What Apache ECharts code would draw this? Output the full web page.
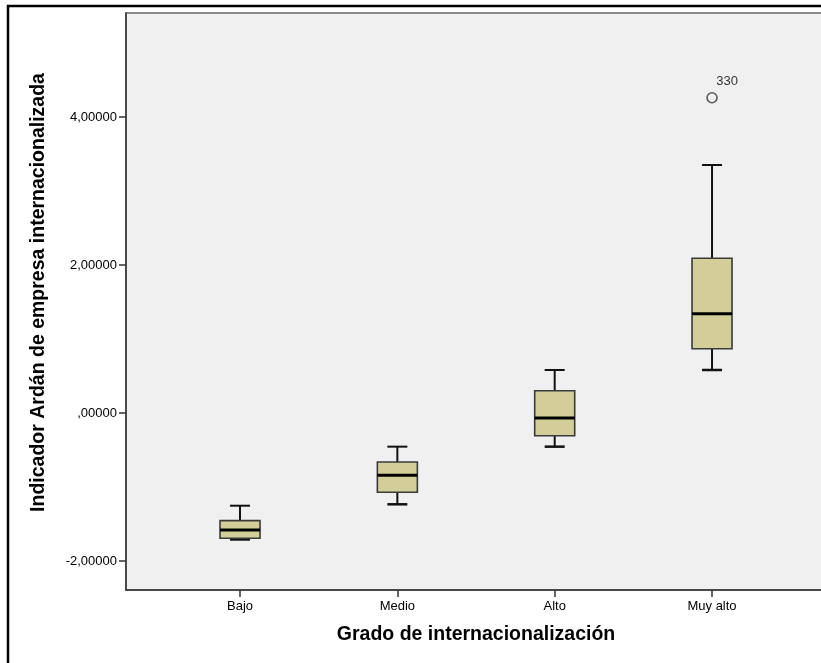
<!DOCTYPE html>
<html>
<head>
<meta charset="utf-8">
<script src="https://cdn.jsdelivr.net/npm/echarts@6/dist/echarts.min.js"></script>
<style>
html,body{margin:0;padding:0;background:#fff;}
#chart{width:821px;height:663px;}
</style>
</head>
<body>
<div id="chart"></div>
<script>
// ---- data ----
const categories = ['Bajo', 'Medio', 'Alto', 'Muy alto'];
const lowerWhisker = [-1.709, -1.234, -0.455, 0.581];
const q1Values = [-1.693, -1.072, -0.307, 0.869];
const medianValues = [-1.581, -0.842, -0.068, 1.342];
const q3Values = [-1.455, -0.662, 0.301, 2.091];
const upperWhisker = [-1.253, -0.455, 0.581, 3.351];
const outlierCategory = [3];
const outlierValues = [4.26];
const outlierLabels = ['330'];
const yTickValues = [-2, 0, 2, 4];
const yTitle = 'Indicador Ardán de empresa internacionalizada';
const xTitle = 'Grado de internacionalización';

// ---- build ----
const boxData = categories.map((c, i) => [i, lowerWhisker[i], q1Values[i], medianValues[i], q3Values[i], upperWhisker[i]]);
const outlierData = outlierCategory.map((c, i) => ({ value: [c, outlierValues[i]], name: outlierLabels[i] }));

function fmt(v) {
  let s = Math.abs(v).toFixed(5).replace('.', ',');
  if (s.startsWith('0,')) s = s.slice(1);
  return (v < 0 ? '-' : '') + s;
}

const FONT = '"Liberation Sans", Arial, sans-serif';
const plotLeft = 126, plotTop = 13, plotBottom = 590;

const chart = echarts.init(document.getElementById('chart'), null, { renderer: 'canvas' });
chart.setOption({
  backgroundColor: '#ffffff',
  animation: false,
  grid: { left: 161.35, right: 30.3, top: plotTop, bottom: 663 - plotBottom, show: false },
  graphic: [
    { type: 'rect', z: -10, shape: { x: 8, y: 6, width: 840, height: 700 },
      style: { fill: '#ffffff', stroke: '#000000', lineWidth: 2.5 } },
    { type: 'rect', z: -9, shape: { x: plotLeft, y: plotTop, width: 720, height: plotBottom - plotTop },
      style: { fill: '#f0f0f0', stroke: '#8a8a8a', lineWidth: 2 } },
    { type: 'line', z: 5, shape: { x1: plotLeft, y1: plotBottom, x2: 830, y2: plotBottom },
      style: { stroke: '#333333', lineWidth: 1.5 } }
  ],
  xAxis: {
    type: 'category',
    data: categories,
    boundaryGap: true,
    axisLine: { show: false, onZero: false },
    axisTick: { show: true, alignWithLabel: true, length: 7, lineStyle: { color: '#333', width: 1.5 } },
    axisLabel: { color: '#000', fontSize: 13, fontFamily: FONT, margin: 10 },
    splitLine: { show: false },
    name: xTitle,
    nameLocation: 'middle',
    nameGap: 35,
    nameTextStyle: { color: '#000', fontSize: 19.5, fontWeight: 'bold', fontFamily: FONT }
  },
  yAxis: {
    type: 'value',
    min: -2.392,
    max: 5.405,
    offset: 161.35 - plotLeft,
    axisLine: { show: true, onZero: false, lineStyle: { color: '#333', width: 1.5 } },
    axisTick: { show: true, length: 7, customValues: yTickValues, lineStyle: { color: '#333', width: 1.5 } },
    axisLabel: { color: '#000', fontSize: 13, fontFamily: FONT, margin: 9, customValues: yTickValues, formatter: fmt },
    splitLine: { show: false },
    name: yTitle,
    nameLocation: 'middle',
    nameRotate: 90,
    nameGap: 77,
    nameTextStyle: { color: '#000', fontSize: 19.5, fontWeight: 'bold', fontFamily: FONT, padding: [0, 0, 0, 18] }
  },
  series: [
    {
      type: 'custom',
      data: boxData,
      encode: { x: 0, y: [1, 2, 3, 4, 5] },
      renderItem: function (params, api) {
        const ci = api.value(0);
        const pLow = api.coord([ci, api.value(1)]);
        const pQ1 = api.coord([ci, api.value(2)]);
        const pMed = api.coord([ci, api.value(3)]);
        const pQ3 = api.coord([ci, api.value(4)]);
        const pHigh = api.coord([ci, api.value(5)]);
        const x = pMed[0];
        const hw = 20, cw = 10;
        const lineStyle = { stroke: '#111', lineWidth: 2 };
        return {
          type: 'group',
          children: [
            { type: 'line', shape: { x1: x, y1: pHigh[1], x2: x, y2: pQ3[1] }, style: lineStyle },
            { type: 'line', shape: { x1: x, y1: pQ1[1], x2: x, y2: pLow[1] }, style: lineStyle },
            { type: 'line', shape: { x1: x - cw, y1: pHigh[1], x2: x + cw, y2: pHigh[1] }, style: lineStyle },
            { type: 'line', shape: { x1: x - cw, y1: pLow[1], x2: x + cw, y2: pLow[1] }, style: { stroke: '#111', lineWidth: 2.5 } },
            { type: 'rect', shape: { x: x - hw, y: pQ3[1], width: 2 * hw, height: pQ1[1] - pQ3[1] },
              style: { fill: '#d3ce99', stroke: '#3a3a3a', lineWidth: 1.6 } },
            { type: 'line', shape: { x1: x - hw, y1: pMed[1], x2: x + hw, y2: pMed[1] }, style: { stroke: '#000', lineWidth: 3 } }
          ]
        };
      }
    },
    {
      type: 'scatter',
      data: outlierData,
      symbol: 'circle',
      symbolSize: 10,
      itemStyle: { color: 'rgba(0,0,0,0)', borderColor: '#333', borderWidth: 1.6 },
      label: {
        show: true,
        formatter: function (p) { return p.name; },
        position: [10, -17],
        align: 'left',
        verticalAlign: 'top',
        color: '#000',
        fontSize: 13,
        fontFamily: FONT
      }
    }
  ]
});
</script>
</body>
</html>
